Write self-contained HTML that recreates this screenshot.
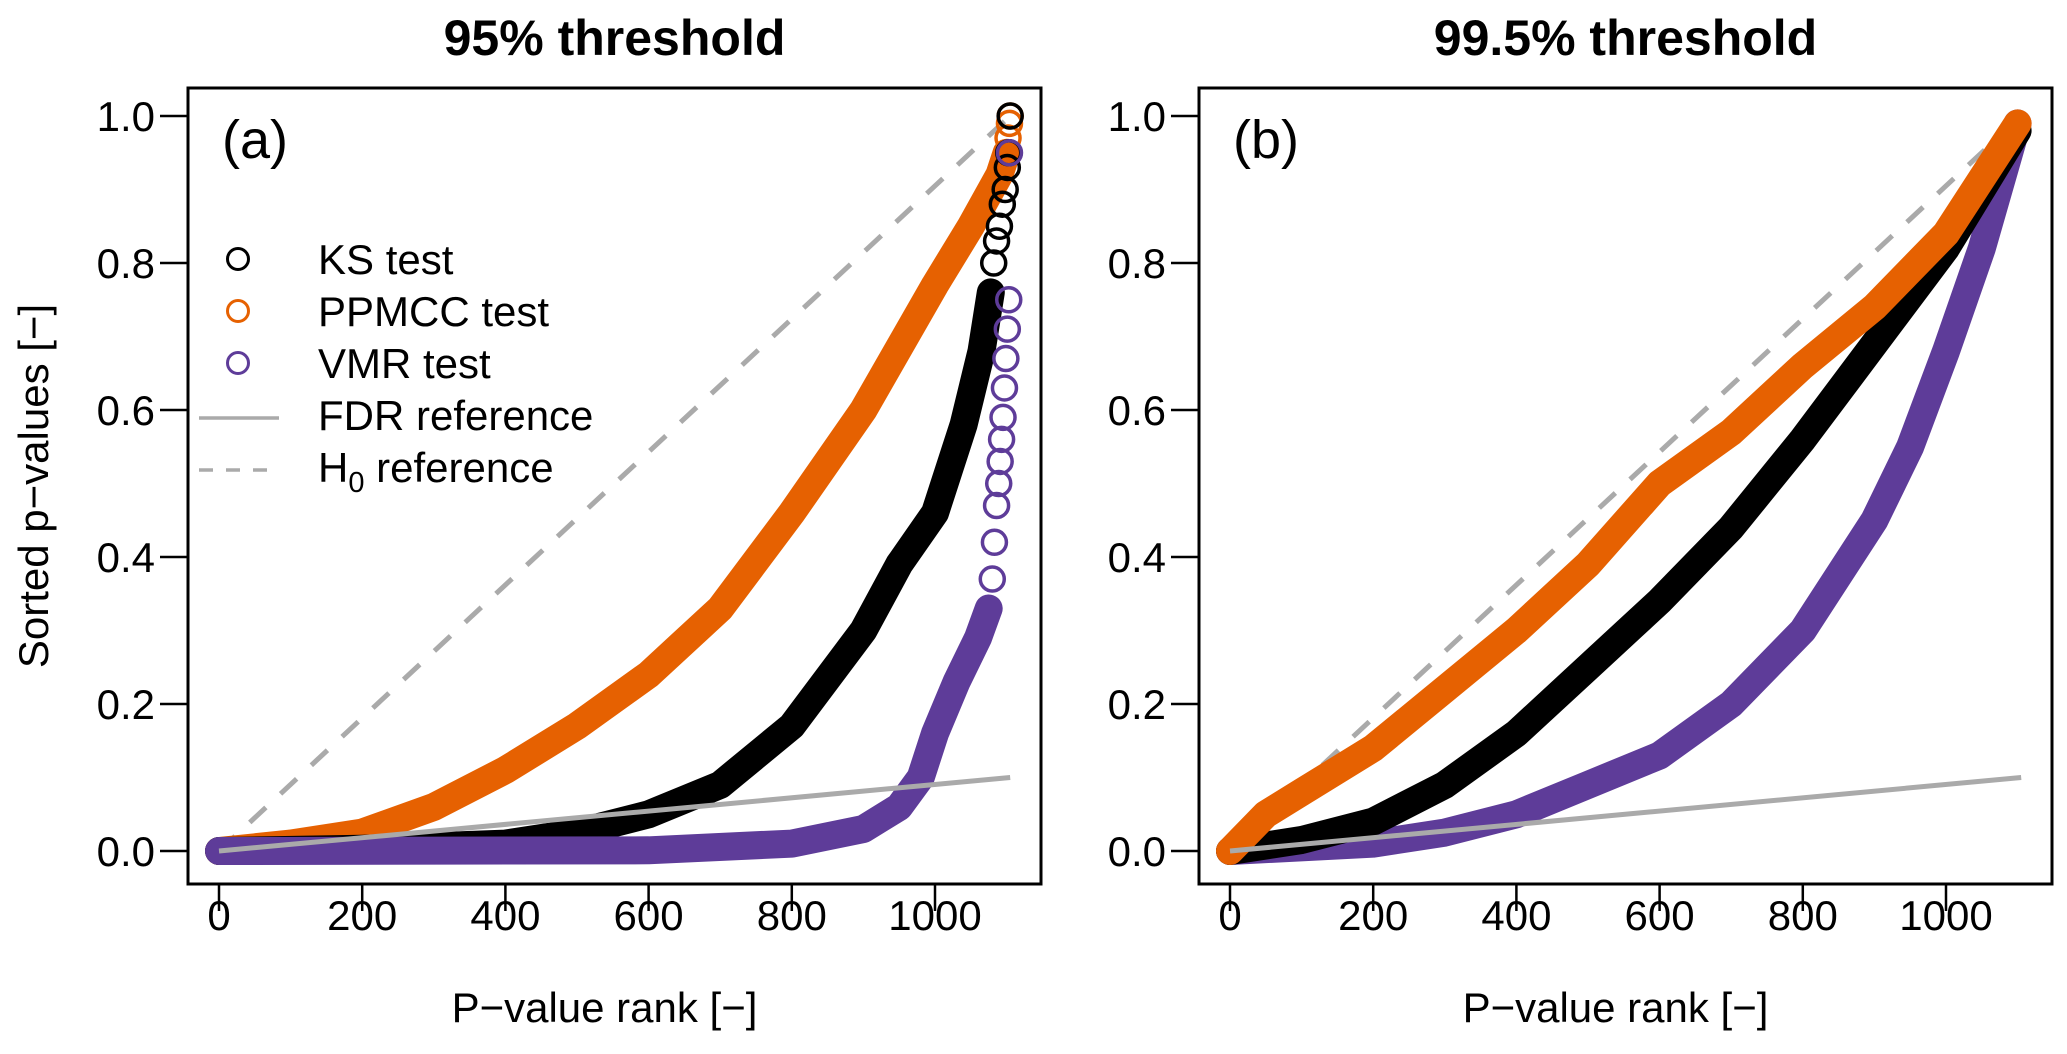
<!DOCTYPE html>
<html><head><meta charset="utf-8"><style>
html,body{margin:0;padding:0;background:#fff;}
svg{display:block;font-family:"Liberation Sans",Arial,sans-serif;}
</style></head><body>
<svg id="chart" width="2067" height="1054" viewBox="0 0 2067 1054" xmlns="http://www.w3.org/2000/svg">
<g id="root"></g>
</svg>
<script>
// ---- data ----
const xTicks = [0, 200, 400, 600, 800, 1000];
const yTicks = [0.0, 0.2, 0.4, 0.6, 0.8, 1.0];
const yTickLabels = ["0.0", "0.2", "0.4", "0.6", "0.8", "1.0"];
const nTotal = 1105;
const fdrMax = 0.1;

// Panel a (95% threshold)
const aPpmccRank = [0, 100, 200, 300, 400, 500, 600, 700, 800, 900, 1000, 1050, 1090, 1100];
const aPpmccP    = [0, 0.01, 0.025, 0.06, 0.11, 0.17, 0.24, 0.33, 0.46, 0.6, 0.77, 0.85, 0.92, 0.95];
const aPpmccTailRank = [1102, 1104, 1105];
const aPpmccTailP    = [0.97, 0.99, 1.0];
const aKsRank = [0, 200, 400, 500, 600, 700, 800, 900, 950, 1000, 1040, 1065, 1078];
const aKsP    = [0, 0.003, 0.01, 0.025, 0.05, 0.09, 0.17, 0.3, 0.39, 0.46, 0.58, 0.68, 0.76];
const aKsTailRank = [1082, 1086, 1090, 1094, 1098, 1101, 1103, 1105];
const aKsTailP    = [0.8, 0.83, 0.85, 0.88, 0.9, 0.93, 0.95, 1.0];
const aVmrRank = [0, 600, 800, 900, 950, 980, 1000, 1030, 1060, 1075];
const aVmrP    = [0, 0.001, 0.01, 0.03, 0.06, 0.1, 0.16, 0.23, 0.29, 0.33];
const aVmrTailRank = [1080, 1083, 1086, 1089, 1091, 1093, 1095, 1097, 1099, 1101, 1103, 1104];
const aVmrTailP    = [0.37, 0.42, 0.47, 0.5, 0.53, 0.56, 0.59, 0.63, 0.67, 0.71, 0.75, 0.95];

// Panel b (99.5% threshold)
const bPpmccRank = [0, 50, 100, 200, 300, 400, 500, 600, 700, 800, 900, 1000, 1100];
const bPpmccP    = [0, 0.05, 0.08, 0.14, 0.22, 0.3, 0.39, 0.5, 0.57, 0.66, 0.74, 0.84, 0.99];
const bKsRank = [0, 100, 200, 300, 400, 500, 600, 700, 800, 900, 1000, 1100];
const bKsP    = [0, 0.015, 0.04, 0.09, 0.16, 0.25, 0.34, 0.44, 0.56, 0.69, 0.82, 0.98];
const bVmrRank = [0, 200, 300, 400, 500, 600, 700, 800, 900, 950, 1000, 1050, 1100];
const bVmrP    = [0, 0.01, 0.025, 0.05, 0.09, 0.13, 0.2, 0.3, 0.45, 0.55, 0.68, 0.82, 0.99];

const ORANGE = "#e66101", BLACK = "#000000", PURPLE = "#5e3c99", GREY = "#aaaaaa";
const NS = "http://www.w3.org/2000/svg";
const root = document.getElementById('root');

function mk(tag, attrs, parent) {
  const e = document.createElementNS(NS, tag);
  for (const k in attrs) e.setAttribute(k, attrs[k]);
  (parent || root).appendChild(e);
  return e;
}

function panel(off, title, letter, series, legend) {
  const g = mk('g', {});
  
  
  const L = 188 + off, R = 1041 + off, T = 88, B = 884;
  const xs = v => 219 + off + v * 0.716;
  const ys = v => 851 - v * 735;

  const t = mk('text', {x: (L + R) / 2, y: 55, 'text-anchor': 'middle', 'font-size': 50, 'font-weight': 'bold'}, g);
  t.textContent = title;
  
  

  const lab = mk('text', {x: L + 34, y: 158, 'font-size': 54}, g);
  lab.textContent = '(' + letter + ')';
  
  

  const h0 = mk('line', {x1: xs(0), y1: ys(0), x2: xs(nTotal), y2: ys(1), stroke: GREY, 'stroke-width': 5, 'stroke-dasharray': '22 20'}, g);
  
  

  series.forEach(s => {
    const d = s.rank.map((r, i) => (i ? 'L' : 'M') + xs(r).toFixed(1) + ' ' + ys(s.p[i]).toFixed(1)).join(' ');
    const p = mk('path', {d: d, fill: 'none', stroke: s.color, 'stroke-width': 28, 'stroke-linejoin': 'round', 'stroke-linecap': 'round'}, g);
    
    
    if (s.tailRank) {
      s.tailRank.forEach((r, i) => {
        const c = mk('circle', {cx: xs(r), cy: ys(s.tailP[i]), r: 12, fill: 'none', stroke: s.color, 'stroke-width': 3.5}, g);
        
        
      });
    }
  });

  const fdr = mk('line', {x1: xs(0), y1: ys(0), x2: xs(nTotal), y2: ys(fdrMax), stroke: GREY, 'stroke-width': 5}, g);
  
  

  const box = mk('rect', {x: L, y: T, width: R - L, height: B - T, fill: 'none', stroke: '#000', 'stroke-width': 3}, g);
  
  

  xTicks.forEach(v => {
    const ln = mk('line', {x1: xs(v), x2: xs(v), y1: B, y2: B + 27, stroke: '#000', 'stroke-width': 2.5}, g);
    
    
    const tx = mk('text', {x: xs(v), y: 930, 'text-anchor': 'middle', 'font-size': 42}, g);
    tx.textContent = v;
    
    
  });
  yTicks.forEach((v, i) => {
    const ln = mk('line', {x1: L - 28, x2: L, y1: ys(v), y2: ys(v), stroke: '#000', 'stroke-width': 2.5}, g);
    
    
    const tx = mk('text', {x: L - 33, y: ys(v) + 15, 'text-anchor': 'end', 'font-size': 42}, g);
    tx.textContent = yTickLabels[i];
    
    
  });
  const xt = mk('text', {x: (L + R) / 2 - 10, y: 1022, 'text-anchor': 'middle', 'font-size': 42}, g);
  xt.textContent = 'P\u2212value rank [\u2212]';
  
  

  if (legend) {
    const lg = mk('g', {}, g);
    
    
    const rows = [
      {type: 'c', color: BLACK, label: 'KS test'},
      {type: 'c', color: ORANGE, label: 'PPMCC test'},
      {type: 'c', color: PURPLE, label: 'VMR test'},
      {type: 'l', color: GREY, label: 'FDR reference'},
      {type: 'd', color: GREY, label: 'H0 reference'}
    ];
    rows.forEach((r, i) => {
      const y = 259 + i * 52;
      const e = mk('g', {}, lg);
      
      
      if (r.type === 'c') mk('circle', {cx: 238, cy: y, r: 10.5, fill: 'none', stroke: r.color, 'stroke-width': 3}, e);
      else mk('line', {x1: 199, x2: 279, y1: y + 3, y2: y + 3, stroke: r.color, 'stroke-width': 3.5, 'stroke-dasharray': r.type === 'd' ? '14 13' : 'none'}, e);
      const tx = mk('text', {x: 318, y: y + 15, 'font-size': 42}, e);
      if (r.type === 'd') {
        tx.textContent = 'H';
        const sub = mk('tspan', {'font-size': 29, dy: 10}, tx); sub.textContent = '0';
        const rest = mk('tspan', {dy: -10}, tx); rest.textContent = ' reference';
      } else tx.textContent = r.label;
    });
  }
}

panel(0, '95% threshold', 'a', [
  {name: 'ppmcc', color: ORANGE, rank: aPpmccRank, p: aPpmccP, tailRank: aPpmccTailRank, tailP: aPpmccTailP},
  {name: 'ks', color: BLACK, rank: aKsRank, p: aKsP, tailRank: aKsTailRank, tailP: aKsTailP},
  {name: 'vmr', color: PURPLE, rank: aVmrRank, p: aVmrP, tailRank: aVmrTailRank, tailP: aVmrTailP}
], true);
panel(1011, '99.5% threshold', 'b', [
  {name: 'vmr', color: PURPLE, rank: bVmrRank, p: bVmrP},
  {name: 'ks', color: BLACK, rank: bKsRank, p: bKsP},
  {name: 'ppmcc', color: ORANGE, rank: bPpmccRank, p: bPpmccP}
], false);

const yt = mk('text', {x: 0, y: 0, 'text-anchor': 'middle', 'font-size': 42, transform: 'translate(48 486) rotate(-90)'});
yt.textContent = 'Sorted p\u2212values [\u2212]';


</script>
</body></html>
